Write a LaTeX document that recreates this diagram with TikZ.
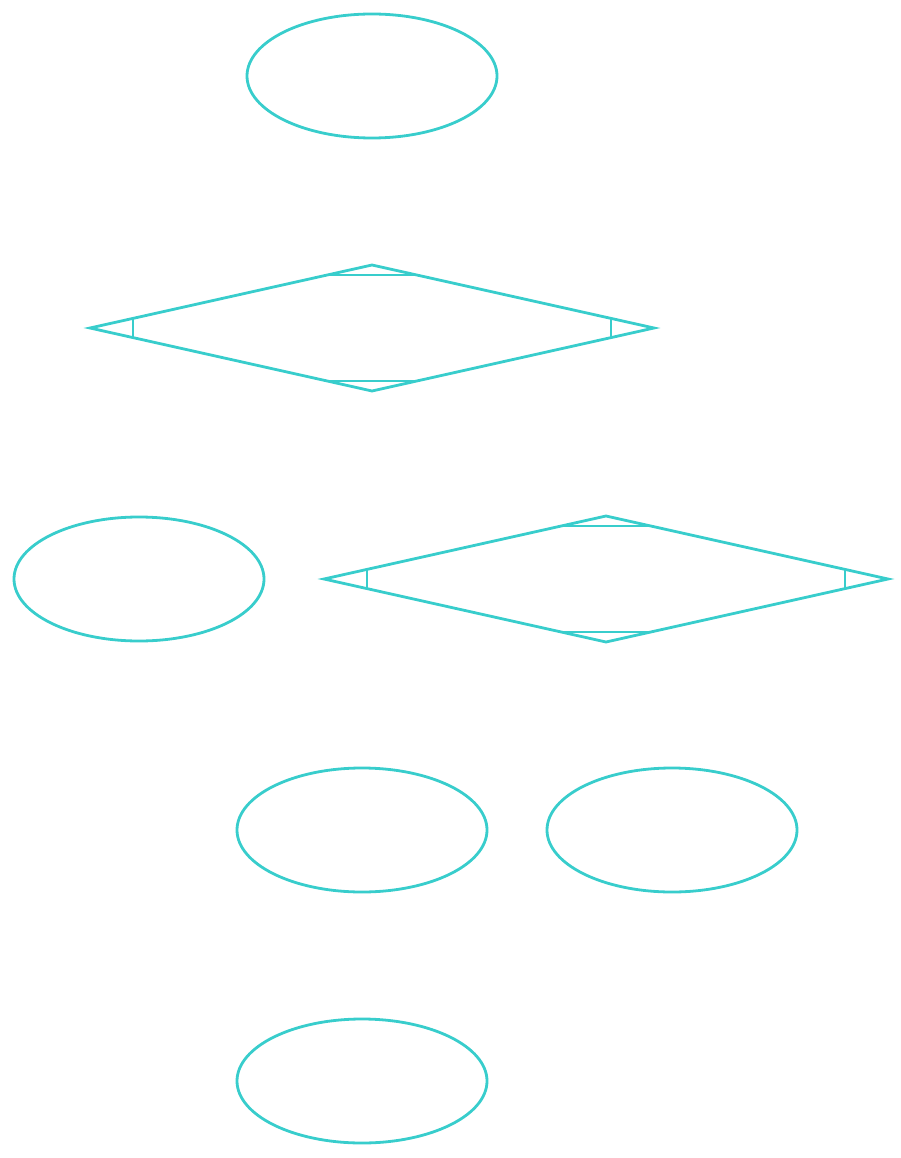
\documentclass[tikz,border=0pt]{standalone}
\usetikzlibrary{shapes.geometric,calc,backgrounds}
\definecolor{tq}{RGB}{56,205,204}
\begin{document}
\begin{tikzpicture}[x=1pt,y=-1pt,
  ell/.style={ellipse,draw=tq,line width=2.8pt,minimum width=250pt,minimum height=124pt,inner sep=0pt,outer sep=0pt},
  dia/.style={diamond,draw=tq,line width=2.8pt,minimum width=564pt,minimum height=126pt,inner sep=0pt,outer sep=0pt},
  cutline/.style={color=tq,line width=2.8pt},
  edge/.style={draw=white,line width=1pt,->,shorten >=2pt}]
\useasboundingbox (0,0) rectangle (900,1158);
\node[ell] (e1) at (372,76) {};
\node[dia] (d1) at (372,328) {};
\node[ell] (eL) at (139,579) {};
\node[dia] (d2) at (606,579) {};
\node[ell] (eM) at (362,830) {};
\node[ell] (eR) at (672,830) {};
\node[ell] (eB) at (362,1081) {};
\foreach \d in {d1,d2}{
  \draw[cutline] ($(\d.north)!0.1587!(\d.west)$) -- ($(\d.north)!0.1587!(\d.east)$);
  \draw[cutline] ($(\d.south)!0.1587!(\d.west)$) -- ($(\d.south)!0.1587!(\d.east)$);
  \draw[cutline] ($(\d.west)!0.1525!(\d.north)$) -- ($(\d.west)!0.1525!(\d.south)$);
  \draw[cutline] ($(\d.east)!0.1525!(\d.north)$) -- ($(\d.east)!0.1525!(\d.south)$);
}
\begin{scope}[on background layer]
\path[edge] (e1) -- (d1);
\path[edge] (d1) -- (eL);
\path[edge] (d1) -- (d2);
\path[edge] (d2) -- (eM);
\path[edge] (d2) -- (eR);
\path[edge] (eL) -- (eB);
\path[edge] (eM) -- (eB);
\path[edge] (eR) -- (eB);
\end{scope}
\end{tikzpicture}
\end{document}
